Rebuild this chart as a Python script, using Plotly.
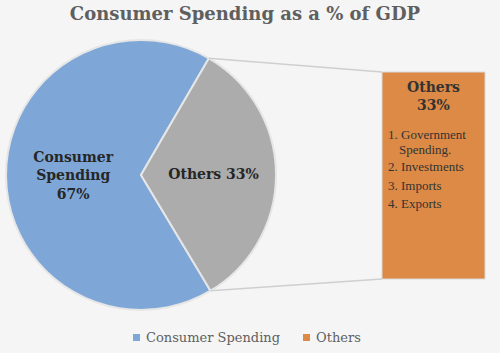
import math
import plotly.graph_objects as go

labels = ["Consumer Spending", "Others"]
values = [67, 33]
slice_text = ["Consumer<br>Spending<br>67%", "Others 33%"]
colors = ["#7ea7d8", "#acacac"]
legend_colors = ["#7ea7d8", "#dc8a45"]
box_title = "Others<br>33%"
box_items = ["Government", "Investments", "Imports", "Exports"]
box_item_cont = "Spending."

W, H = 500, 353
cx, cy, r = 141, 175, 135
rotation = 149

fig = go.Figure()
fig.add_trace(go.Pie(
    labels=labels, values=values, sort=False, direction="clockwise",
    rotation=rotation,
    marker=dict(colors=colors, line=dict(color="#e6e6e6", width=2)),
    text=slice_text, textinfo="text", textposition="inside",
    insidetextorientation="horizontal",
    textfont=dict(family="DejaVu Serif", size=14, color="#262626", weight="bold"),
    domain=dict(x=[(cx - r) / W, (cx + r) / W], y=[1 - (cy + r) / H, 1 - (cy - r) / H]),
    showlegend=False, hoverinfo="skip",
))

# connector lines from the "Others" slice edge to the box
total = sum(values)
a_end = rotation + 360 * values[0] / total  # end of consumer = start of others
a0 = math.radians(a_end % 360)
a1 = math.radians((a_end + 360 * values[1] / total) % 360)
p0 = (cx + r * math.sin(a0), cy - r * math.cos(a0))
p1 = (cx + r * math.sin(a1), cy - r * math.cos(a1))
bx0, bx1, by0, by1 = 382, 485, 72, 279
shapes = [
    dict(type="rect", xref="paper", yref="paper", x0=bx0 / W, x1=bx1 / W,
         y0=1 - by1 / H, y1=1 - by0 / H, fillcolor="#dc8a45",
         line=dict(color="#d9d9d9", width=1), layer="below"),
    dict(type="line", xref="paper", yref="paper", x0=p0[0] / W, y0=1 - p0[1] / H,
         x1=bx0 / W, y1=1 - by0 / H, line=dict(color="#cfcfcf", width=1.5)),
    dict(type="line", xref="paper", yref="paper", x0=p1[0] / W, y0=1 - p1[1] / H,
         x1=bx0 / W, y1=1 - by1 / H, line=dict(color="#cfcfcf", width=1.5)),
]

ann = [dict(x=433 / W, y=1 - 96 / H, xref="paper", yref="paper", showarrow=False,
            text="<b>" + box_title + "</b>", xanchor="center", yanchor="middle",
            font=dict(family="DejaVu Serif", size=14, color="#333333"))]
ys = [134, 166, 185, 203]
for i, (item, yy) in enumerate(zip(box_items, ys)):
    ann.append(dict(x=386 / W, y=1 - yy / H, xref="paper", yref="paper", showarrow=False,
                    text=f"{i + 1}. {item}", xanchor="left", yanchor="middle",
                    font=dict(family="Liberation Serif", size=13, color="#333333")))
ann.append(dict(x=397 / W, y=1 - 149 / H, xref="paper", yref="paper", showarrow=False,
                text=box_item_cont, xanchor="left", yanchor="middle",
                font=dict(family="Liberation Serif", size=13, color="#333333")))

# legend (squares + text)
leg_x = [133, 303]
for lab, col, lx in zip(labels, legend_colors, leg_x):
    shapes.append(dict(type="rect", xref="paper", yref="paper",
                       x0=lx / W, x1=(lx + 7) / W, y0=1 - 341 / H, y1=1 - 334 / H,
                       fillcolor=col, line=dict(width=0)))
    ann.append(dict(x=(lx + 11) / W, y=1 - 337 / H, xref="paper", yref="paper",
                    showarrow=False, text=lab, xanchor="left", yanchor="middle",
                    font=dict(family="DejaVu Serif", size=13, color="#5f5f5f")))

fig.update_layout(
    width=W, height=H, margin=dict(l=0, r=0, t=0, b=0),
    paper_bgcolor="#f5f5f5", plot_bgcolor="#f5f5f5",
    title=dict(text="<b>Consumer Spending as a % of GDP</b>", x=245 / W, xanchor="center",
               y=1 - 14 / H, yanchor="middle",
               font=dict(family="DejaVu Serif", size=18, color="#5f5f5f")),
    xaxis=dict(visible=False), yaxis=dict(visible=False),
    shapes=shapes, annotations=ann, showlegend=False,
)
fig.write_html("out.html")
